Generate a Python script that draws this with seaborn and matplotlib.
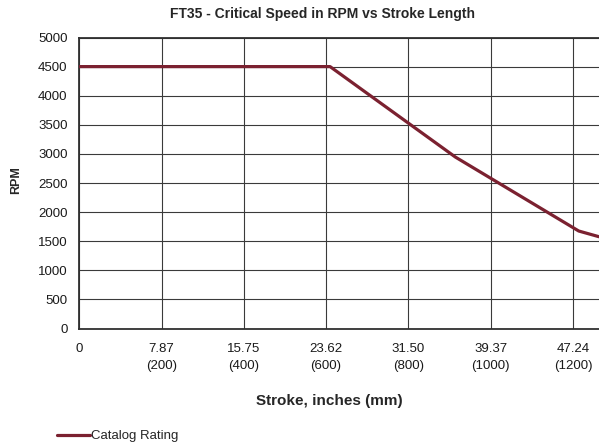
import matplotlib
matplotlib.use("Agg")
import matplotlib.pyplot as plt
import seaborn as sns
import pandas as pd
from matplotlib.lines import Line2D

# Data
stroke_in = [0, 24.0, 36.0, 47.8, 49.74]
rpm = [4500, 4500, 2945, 1675, 1577]
series_name = "Catalog Rating"
xtick_pos = [0, 7.87, 15.75, 23.62, 31.50, 39.37, 47.24]
xtick_labels = ["0", "7.87\n(200)", "15.75\n(400)", "23.62\n(600)", "31.50\n(800)",
                "39.37\n(1000)", "47.24\n(1200)"]
ytick_pos = list(range(0, 5001, 500))

sns.set_style("white")
plt.rcParams['font.family'] = ['Liberation Sans', 'DejaVu Sans']

df = pd.DataFrame({"Stroke": stroke_in, "RPM": rpm, "Series": series_name})

fig = plt.figure(figsize=(5.99, 4.46), dpi=100)
W, H = 599, 446
left, right, top, bottom = 79.3, 599, 37.5, 328.5
ax = fig.add_axes([left / W, (H - bottom) / H, (right - left) / W, (bottom - top) / H])

sns.lineplot(data=df, x="Stroke", y="RPM", hue="Series", palette=["#7B2130"],
             linewidth=2.3, ax=ax, legend=False, zorder=3)

ax.set_xlim(0, 49.74)
ax.set_ylim(0, 5000)
ax.set_xticks(xtick_pos)
ax.set_xticklabels(xtick_labels, fontsize=9.5, linespacing=1.55)
ax.set_yticks(ytick_pos)
ax.set_yticklabels([str(v) for v in ytick_pos], fontsize=9.5)
ax.tick_params(axis='both', length=0, colors="#1a1a1a")
ax.tick_params(axis='x', pad=10.5)
ax.tick_params(axis='y', pad=8.5)
for lbl in ax.get_xticklabels():
    lbl.set_verticalalignment('top')

ax.grid(True, color="#3a3a3a", linewidth=0.8)
ax.set_axisbelow(True)
for s in ["left", "bottom", "top"]:
    ax.spines[s].set_color("#303030")
    ax.spines[s].set_linewidth(1.3)
ax.spines["right"].set_visible(False)

ax.set_xlabel("Stroke, inches (mm)", fontsize=11, fontweight="bold")
ax.xaxis.set_label_coords((329 - left) / (right - left), -(401 - bottom) / (bottom - top))
ax.xaxis.label.set_verticalalignment('center')
ax.set_ylabel("RPM", fontsize=9, fontweight="bold")
ax.yaxis.set_label_coords(-(left - 16) / (right - left), (bottom - 180) / (bottom - top))
ax.yaxis.label.set_verticalalignment('center')
fig.text(322 / W, 1 - 14 / H, "FT35 - Critical Speed in RPM vs Stroke Length",
         ha="center", va="center", fontsize=10, fontweight="bold")

h = Line2D([0], [0], color="#7B2130", linewidth=2.3)
fig.legend([h], [series_name], loc="center left", bbox_to_anchor=(50 / W, 1 - 436 / H),
           frameon=False, fontsize=9.5, handlelength=2.5, handletextpad=0.1, borderpad=0)

fig.savefig("out.png", dpi=100)
